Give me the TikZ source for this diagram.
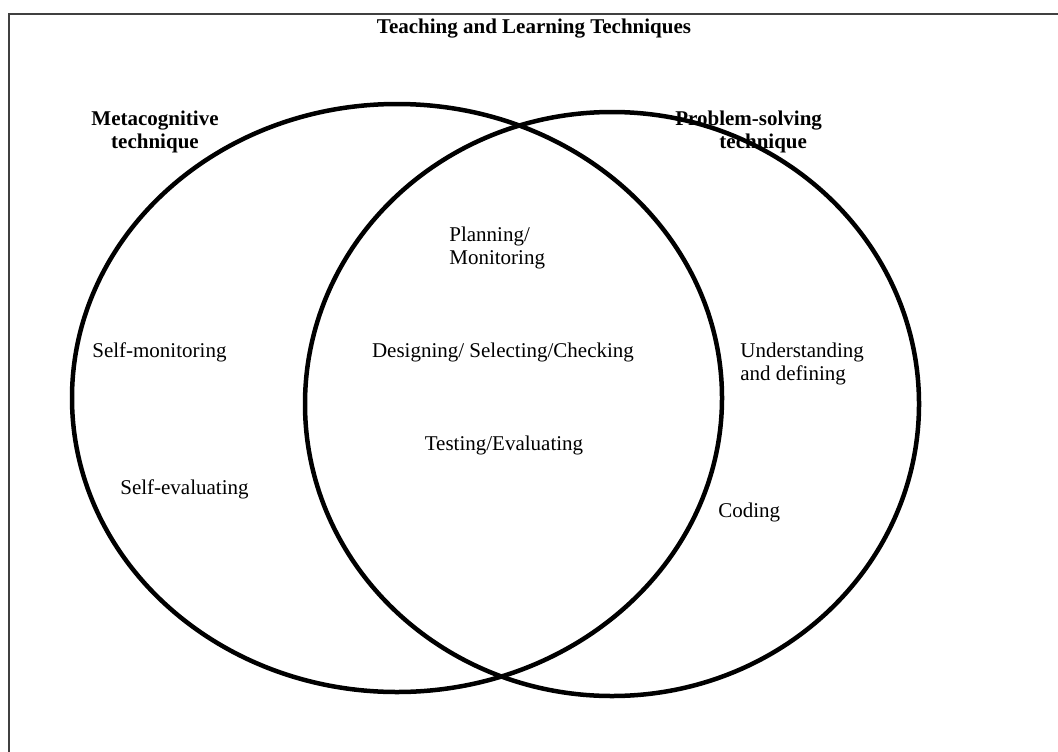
\documentclass[tikz,border=0pt]{standalone}
\usepackage{fontspec}
\setmainfont{Liberation Serif}

\tikzstyle{every node}=[font={\fontsize{12.6}{14.2}\selectfont}, inner sep=0pt, align=center]
\tikzstyle{heading}=[font={\fontsize{12.6}{14.2}\selectfont\bfseries}]
\tikzstyle{item}=[anchor=west, align=left]
\tikzstyle{set}=[line width=2.7pt]

\begin{document}
\begin{tikzpicture}[x=0.6pt, y=-0.6pt]
    \useasboundingbox (0,0) rectangle (1058,751);
    \draw [line width=1.2pt, black!75] (9,14) rectangle (1080,780);

    % the two sets
    \draw [set] (397,398) ellipse [x radius=325, y radius=294];
    \draw [set] (612,404) ellipse [x radius=307, y radius=292];

    \node [heading] (title) at (534,29) {Teaching and Learning Techniques};
    \node [heading] (meta) at (155,132) {Metacognitive\\technique};
    \node [heading, item] (prob) at (675,132) {Problem-solving\\\hspace*{2.1em}technique};

    % left part
    \node [item] (selfmon) at (92,352) {Self-monitoring};
    \node [item] (selfeval) at (120,489) {Self-evaluating};

    % overlap
    \node [item] (plan) at (449,248) {Planning/\\Monitoring};
    \node (design) at (503,352) {Designing/ Selecting/Checking};
    \node (test) at (504,445) {Testing/Evaluating};

    % right part
    \node [item] (underst) at (740,364) {Understanding\\and defining};
    \node [item] (coding) at (718,512) {Coding};
\end{tikzpicture}
\end{document}
